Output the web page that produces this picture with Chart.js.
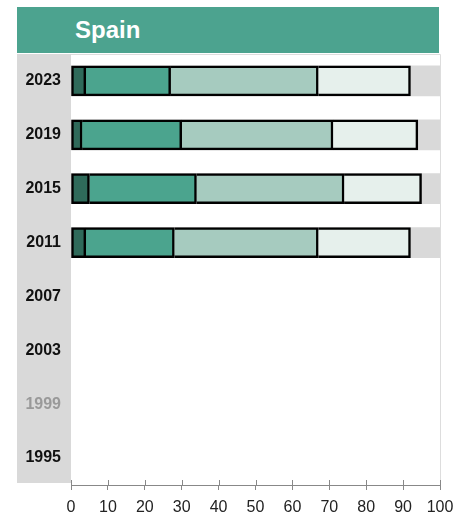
<!DOCTYPE html>
<html>
<head>
<meta charset="utf-8">
<script src="https://cdn.jsdelivr.net/npm/chart.js@4/dist/chart.umd.min.js"></script>
<style>
  html, body { margin: 0; padding: 0; background: #fff; }
  #wrap { position: relative; width: 470px; height: 519px; }
  #banner {
    position: absolute; left: 17px; top: 7px; width: 422px; height: 46px;
    background: #4ca38f; color: #fff;
    font: bold 24px "Liberation Sans", Arial, sans-serif;
    line-height: 46px; box-sizing: border-box; padding-left: 58px;
  }
  canvas { position: absolute; left: 0; top: 0; }
</style>
</head>
<body>
<div id="wrap">
  <canvas id="c" width="470" height="519"></canvas>
  <div id="banner">Spain</div>
</div>
<script>
const title = 'Spain';
const years = ['2023', '2019', '2015', '2011', '2007', '2003', '1999', '1995'];
const mutedYears = ['1999'];
const seg1 = [4, 3, 5, 4, null, null, null, null];
const seg2 = [23, 27, 29, 24, null, null, null, null];
const seg3 = [40, 41, 40, 39, null, null, null, null];
const seg4 = [25, 23, 21, 25, null, null, null, null];
const backdrop = [100, 100, 100, 100, null, null, null, null];
const xTicks = [0, 10, 20, 30, 40, 50, 60, 70, 80, 90, 100];
const segColors = ['#2f6a5a', '#4ba48e', '#a6cbbf', '#e6f0ec'];

document.getElementById('banner').textContent = title;

const FONT = '"Liberation Sans", Arial, sans-serif';

const common = { stack: 'data', grouped: false, barThickness: 30, borderColor: '#000', borderWidth: 2.5 };

const decor = {
  id: 'decor',
  beforeDraw(chart) {
    const { ctx, chartArea: a } = chart;
    ctx.save();
    ctx.fillStyle = '#d9d9d9';
    ctx.fillRect(17, a.top, a.left - 17, a.bottom - a.top - 2);
    ctx.strokeStyle = '#dddddd';
    ctx.lineWidth = 1;
    ctx.beginPath();
    ctx.moveTo(a.left, a.top + 0.5);
    ctx.lineTo(a.right + 0.5, a.top + 0.5);
    ctx.lineTo(a.right + 0.5, a.bottom - 4);
    ctx.stroke();
    ctx.restore();
  },
  afterDraw(chart) {
    const { ctx, chartArea: a } = chart;
    const xs = chart.scales.x;
    ctx.save();
    ctx.strokeStyle = '#888888';
    ctx.lineWidth = 1;
    ctx.beginPath();
    xTicks.forEach(v => {
      const px = Math.round(xs.getPixelForValue(v)) + 0.5;
      ctx.moveTo(px, a.bottom - 5);
      ctx.lineTo(px, a.bottom);
    });
    ctx.stroke();
    ctx.restore();
  }
};

new Chart(document.getElementById('c'), {
  type: 'bar',
  data: {
    labels: years,
    datasets: [
      Object.assign({ data: seg1, backgroundColor: segColors[0], borderSkipped: false }, common),
      Object.assign({ data: seg2, backgroundColor: segColors[1], borderSkipped: 'start' }, common),
      Object.assign({ data: seg3, backgroundColor: segColors[2], borderSkipped: 'start' }, common),
      Object.assign({ data: seg4, backgroundColor: segColors[3], borderSkipped: 'start' }, common),
      { data: backdrop, backgroundColor: '#d9d9d9', borderWidth: 0, stack: 'bg', grouped: false, barThickness: 30 }
    ]
  },
  options: {
    indexAxis: 'y',
    responsive: false,
    animation: false,
    layout: { padding: { left: 17, top: 54, right: 30, bottom: 0 } },
    plugins: { legend: { display: false }, tooltip: { enabled: false }, title: { display: false } },
    scales: {
      x: {
        stacked: true,
        min: 0, max: 100,
        afterBuildTicks(scale) { scale.ticks = xTicks.map(v => ({ value: v })); },
        afterFit(scale) { scale.height = 34; },
        grid: { display: true, drawOnChartArea: false, drawTicks: true, tickLength: 5, color: '#888888' },
        border: { display: true, color: '#888888', width: 1 },
        ticks: { color: '#222', padding: 8, font: { family: FONT, size: 16 } }
      },
      y: {
        stacked: true,
        afterFit(scale) { scale.width = 54; },
        grid: { display: false, drawTicks: false },
        border: { display: false },
        ticks: {
          padding: 10,
          color: c => mutedYears.includes(years[c.index]) ? '#999999' : '#111111',
          font: { family: FONT, size: 16, weight: 'bold' }
        }
      }
    }
  },
  plugins: [decor]
});
</script>
</body>
</html>
